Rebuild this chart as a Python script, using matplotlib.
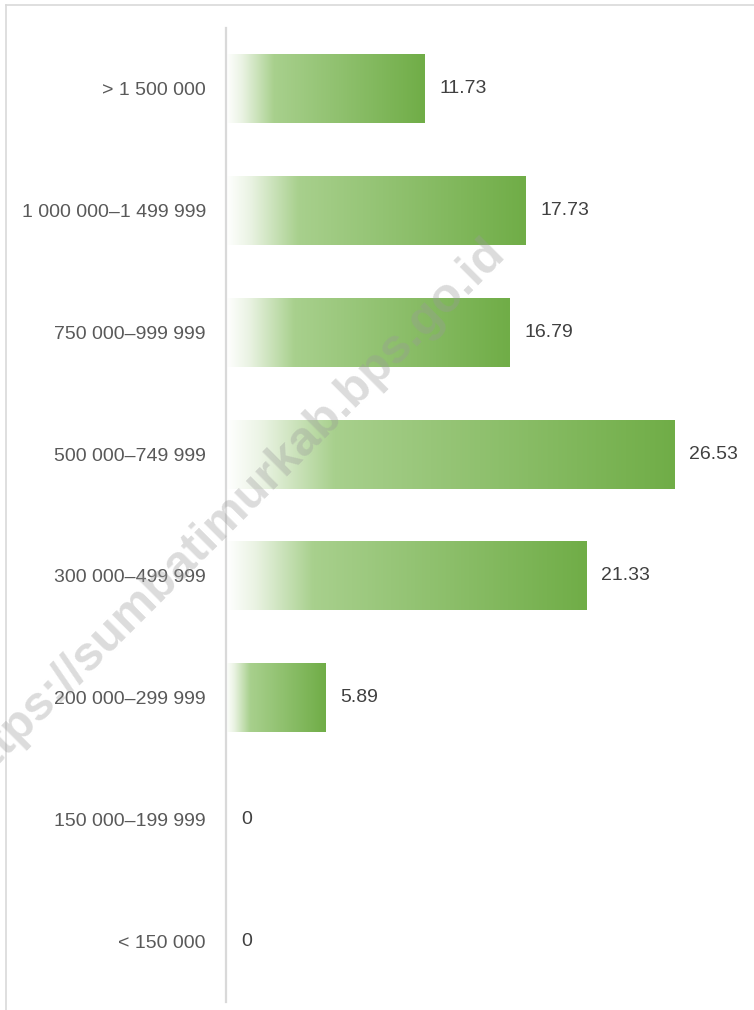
import numpy as np
import matplotlib
matplotlib.use("Agg")
import matplotlib.pyplot as plt
from matplotlib.colors import LinearSegmentedColormap
from matplotlib.lines import Line2D

categories = ["> 1 500 000", "1 000 000\u20131 499 999", "750 000\u2013999 999",
              "500 000\u2013749 999", "300 000\u2013499 999", "200 000\u2013299 999",
              "150 000\u2013199 999", "< 150 000"]
values = [11.73, 17.73, 16.79, 26.53, 21.33, 5.89, 0, 0]
value_labels = ["11.73", "17.73", "16.79", "26.53", "21.33", "5.89", "0", "0"]

plt.rcParams['font.family'] = ['Liberation Sans', 'DejaVu Sans']

W, H = 754, 1010
fig = plt.figure(figsize=(W / 100, H / 100), dpi=100)
fig.patch.set_facecolor("white")

ax = fig.add_axes([226 / W, 1 - 1002 / H, 1 - 226 / W, (1002 - 28) / H])
ax.set_xlim(0, 528 / 16.89)
ax.set_ylim(len(categories) - 0.5, -0.5)

cmap = LinearSegmentedColormap.from_list(
    "g", [(0.0, "#ffffff"), (0.08, "#eaf3e3"), (0.24, "#a8d08d"), (1.0, "#70ad47")])
grad = np.linspace(0, 1, 256).reshape(1, -1)

ypos = np.arange(len(categories))
bars = ax.barh(ypos, values, height=0.567, color="none", edgecolor="none")
for b, v in zip(bars, values):
    if v <= 0:
        continue
    x0, y0 = b.get_x(), b.get_y()
    w, h = b.get_width(), b.get_height()
    im = ax.imshow(grad, cmap=cmap, aspect="auto", interpolation="bicubic",
                   extent=[x0, x0 + w, y0 + h, y0], zorder=2)
    im.set_clip_path(b)

for y, v, lab in zip(ypos, values, value_labels):
    ax.annotate(lab, xy=(v, y), xytext=(10.8, 0), textcoords="offset points",
                ha="left", va="center", fontsize=14, color="#404040", zorder=4)

ax.set_yticks(ypos)
ax.set_yticklabels(categories, fontsize=14, color="#595959")
ax.tick_params(axis="y", length=0, pad=14.5)
ax.set_xticks([])
for s in ["top", "right", "bottom"]:
    ax.spines[s].set_visible(False)
ax.spines["left"].set_color("#d9d9d9")
ax.spines["left"].set_linewidth(1.6)
ax.set_facecolor("none")

# outer border
fig.add_artist(Line2D([6 / W, 6 / W], [0, 1 - 5 / H], transform=fig.transFigure,
                      color="#d9d9d9", lw=1.2))
fig.add_artist(Line2D([6 / W, 1], [1 - 5 / H, 1 - 5 / H], transform=fig.transFigure,
                      color="#d9d9d9", lw=1.2))

# watermark
fig.text(231 / W, 1 - 512 / H, "https://sumbatimurkab.bps.go.id", rotation=45,
         rotation_mode="anchor", ha="center", va="center", fontsize=35,
         fontweight="bold", color="#9a9a9a", alpha=0.35, zorder=10)

fig.savefig("out.png", dpi=100, facecolor="white")
